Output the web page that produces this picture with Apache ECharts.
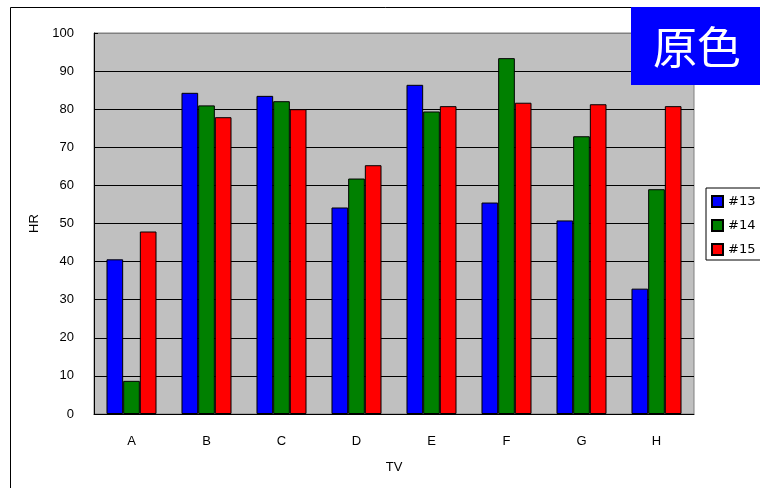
<!DOCTYPE html>
<html>
<head>
<meta charset="utf-8">
<script src="https://cdn.jsdelivr.net/npm/echarts@6/dist/echarts.min.js"></script>
<style>
  html, body { margin: 0; padding: 0; background: #fff; }
  #chart { width: 760px; height: 488px; }
</style>
</head>
<body>
<div id="chart"></div>
<script>
// Channels on the x axis
const categories = ['A', 'B', 'C', 'D', 'E', 'F', 'G', 'H'];
// HR values per series
const seriesNames = ['#13', '#14', '#15'];
const hr13 = [40.6, 84.3, 83.5, 54.2, 86.4, 55.5, 50.8, 32.9];
const hr14 = [8.7, 81.0, 82.1, 61.8, 79.4, 93.4, 72.9, 59.0];
const hr15 = [47.9, 77.9, 80.0, 65.3, 80.8, 81.7, 81.3, 80.8];
const seriesColors = ['#0000FF', '#008000', '#FF0000'];

const font = '"Liberation Sans", Arial, sans-serif';
const legendFont = '"DejaVu Sans", sans-serif';

const chart = echarts.init(document.getElementById('chart'), null, { renderer: 'canvas' });

const gridLineColors = ['#000000', '#000000', '#000000', '#000000', '#000000',
  '#000000', '#000000', '#000000', '#000000', '#000000', '#808080'];

const makeSeries = (name, data, color) => ({
  name: name,
  type: 'bar',
  data: data,
  barGap: '0%',
  barCategoryGap: '33.3%',
  itemStyle: { color: color, borderColor: '#000000', borderWidth: 1 },
  emphasis: { disabled: true }
});

chart.setOption({
  animation: false,
  backgroundColor: '#ffffff',
  textStyle: { fontFamily: font },
  grid: {
    left: 94, top: 33, right: 66, bottom: 74,
    show: true,
    backgroundColor: '#C0C0C0',
    borderColor: '#808080',
    borderWidth: 1
  },
  legend: {
    orient: 'vertical',
    left: 706,
    top: 188,
    padding: [7, 30, 4, 5],
    icon: 'rect',
    itemWidth: 11,
    itemHeight: 11,
    itemGap: 11,
    borderColor: '#000000',
    borderWidth: 1,
    backgroundColor: '#ffffff',
    textStyle: { fontSize: 13, color: '#000000', fontFamily: legendFont },
    data: seriesNames
  },
  xAxis: {
    type: 'category',
    data: categories,
    name: 'TV',
    nameLocation: 'middle',
    nameGap: 47,
    nameTextStyle: { fontSize: 13, color: '#000000' },
    axisLine: { lineStyle: { color: '#000000', width: 1 } },
    axisTick: { inside: true, length: 4, lineStyle: { color: '#000000' } },
    axisLabel: { fontSize: 13, color: '#000000', margin: 21 },
    splitLine: { show: false }
  },
  yAxis: {
    type: 'value',
    min: 0,
    max: 100,
    interval: 10,
    name: 'HR',
    nameLocation: 'middle',
    nameGap: 50,
    nameTextStyle: { fontSize: 13, color: '#000000' },
    axisLine: { show: true, lineStyle: { color: '#000000', width: 1 } },
    axisTick: { show: true, inside: true, length: 4, lineStyle: { color: '#000000' } },
    axisLabel: { fontSize: 13, color: '#000000', margin: 20 },
    splitLine: { show: true, lineStyle: { color: gridLineColors, width: 1 } }
  },
  series: [
    makeSeries(seriesNames[0], hr13, seriesColors[0]),
    makeSeries(seriesNames[1], hr14, seriesColors[1]),
    makeSeries(seriesNames[2], hr15, seriesColors[2])
  ],
  graphic: [
    {
      type: 'rect',
      silent: true,
      shape: { x: 10.5, y: 7.5, width: 780, height: 500 },
      style: { fill: 'none', stroke: '#000000', lineWidth: 1 },
      z: 100
    },
    {
      type: 'rect',
      silent: true,
      shape: { x: 631, y: 7, width: 129, height: 78 },
      style: { fill: '#0000FF' },
      z: 101
    },
    {
      type: 'text',
      silent: true,
      x: 697,
      y: 47,
      style: {
        text: '原色',
        fill: '#ffffff',
        font: '44px "Noto Sans CJK JP"',
        align: 'center',
        verticalAlign: 'middle'
      },
      z: 102
    }
  ]
});
</script>
</body>
</html>
